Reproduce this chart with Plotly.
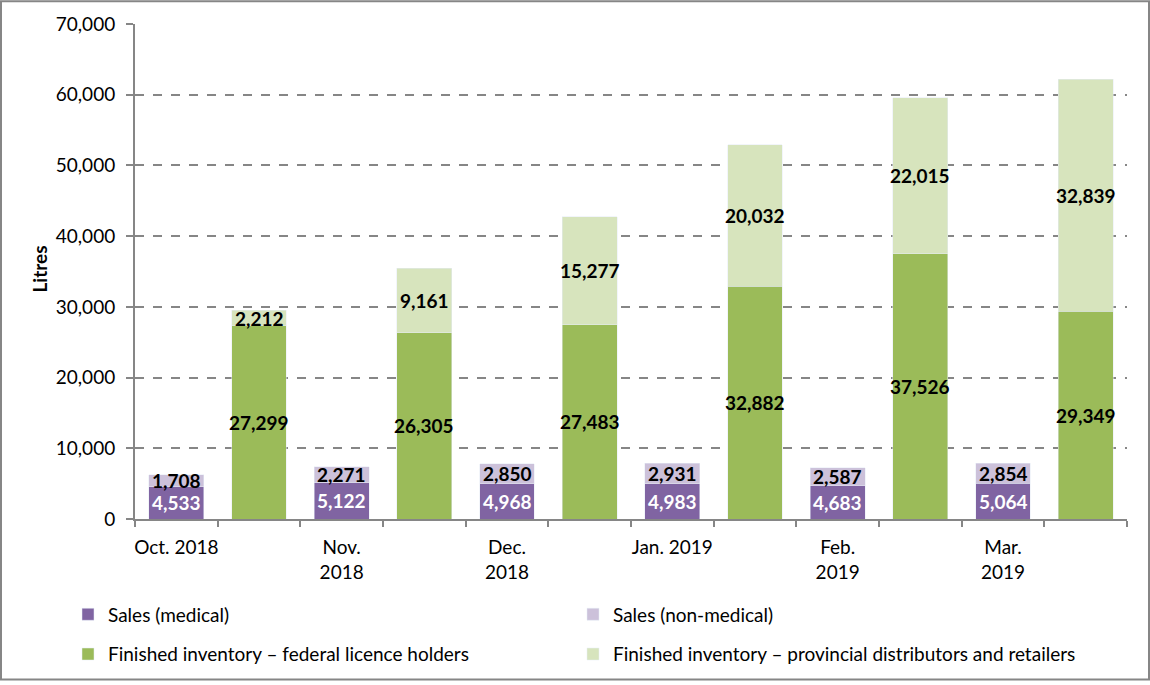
import plotly.graph_objects as go

months = ["Oct. 2018", "Nov.<br>2018", "Dec.<br>2018", "Jan. 2019", "Feb.<br>2019", "Mar.<br>2019"]
sales_medical = [4533, 5122, 4968, 4983, 4683, 5064]
sales_nonmedical = [1708, 2271, 2850, 2931, 2587, 2854]
inv_federal = [27299, 26305, 27483, 32882, 37526, 29349]
inv_provincial = [2212, 9161, 15277, 20032, 22015, 32839]

names = ["Sales (medical)", "Sales (non-medical)",
         "Finished inventory \u2013 federal licence holders",
         "Finished inventory \u2013 provincial distributors and retailers"]
colors = ["#8064A2", "#CCC1DA", "#9BBB59", "#D7E4BD"]

FONT = "Lato"
W, H = 1150, 685
L, R, T, B = 135, 23, 24, 163
PW, PH = W - L - R, H - T - B

sales_x = [2 * i for i in range(len(months))]
inv_x = [2 * i + 1 for i in range(len(months))]
bw = 0.665

fig = go.Figure()
fig.add_bar(x=sales_x, y=sales_medical, name=names[0], marker_color=colors[0],
            width=bw, legend="legend", hoverinfo="skip")
fig.add_bar(x=sales_x, y=sales_nonmedical, name=names[1], marker_color=colors[1],
            width=bw, legend="legend", hoverinfo="skip")
fig.add_bar(x=inv_x, y=inv_federal, name=names[2], marker_color=colors[2],
            width=bw, legend="legend2", hoverinfo="skip")
fig.add_bar(x=inv_x, y=inv_provincial, name=names[3], marker_color=colors[3],
            width=bw, legend="legend2", hoverinfo="skip")

lab_font = dict(family=FONT, size=19, weight="bold")
ann = []
for i in range(len(months)):
    m, n, f, p = sales_medical[i], sales_nonmedical[i], inv_federal[i], inv_provincial[i]
    ann.append(dict(x=sales_x[i], y=m / 2, text=f"{m:,}", showarrow=False,
                    font=dict(lab_font, color="white")))
    ann.append(dict(x=sales_x[i], y=m + n / 2, text=f"{n:,}", showarrow=False,
                    font=dict(lab_font, color="black")))
    ann.append(dict(x=inv_x[i], y=f / 2, text=f"{f:,}", showarrow=False,
                    font=dict(lab_font, color="black")))
    ann.append(dict(x=inv_x[i], y=f + p / 2, text=f"{p:,}", showarrow=False,
                    font=dict(lab_font, color="black")))

ann.append(dict(xref="paper", yref="paper", x=(40 - L) / PW, y=(522 - 271) / PH,
                xanchor="center", yanchor="middle",
                text="<b>Litres</b>", textangle=-90, showarrow=False,
                font=dict(family=FONT, size=19, color="black")))

leg_common = dict(orientation="h", x=(68 - L) / PW, xanchor="left", yanchor="middle",
                  entrywidth=460, font=dict(family=FONT, size=19),
                  bgcolor="rgba(0,0,0,0)", traceorder="normal")

fig.update_layout(
    width=W, height=H,
    margin=dict(l=L, r=R, t=T, b=B),
    barmode="stack",
    plot_bgcolor="white", paper_bgcolor="white",
    font=dict(family=FONT, size=19, color="black"),
    annotations=ann,
    legend=dict(leg_common, y=(522 - 618) / PH),
    legend2=dict(leg_common, y=(522 - 658) / PH),
    shapes=[dict(type="rect", xref="paper", yref="paper",
                 x0=-(L - 1) / PW, x1=1 + (R - 1) / PW,
                 y0=-(B - 1.5) / PH, y1=1 + (T - 1) / PH,
                 line=dict(color="#868686", width=2), layer="above")],
)

fig.update_xaxes(
    range=[-0.5, 11.5], tickmode="array", tickvals=sales_x, ticktext=months,
    ticks="", showgrid=False, zeroline=False, automargin=False,
    showline=True, linecolor="#868686", linewidth=2,
    tickfont=dict(family=FONT, size=19), ticklabelstandoff=10,
    minor=dict(tickmode="linear", tick0=-0.5, dtick=1, ticks="outside",
               ticklen=6, tickcolor="#868686", tickwidth=2, showgrid=False),
)
fig.update_yaxes(
    range=[0, 70000], dtick=10000, tickformat=",", automargin=False,
    ticks="outside", ticklen=7, tickcolor="#868686", tickwidth=2,
    showline=True, linecolor="#868686", linewidth=2, zeroline=False,
    showgrid=True, gridcolor="#868686", griddash="dash", gridwidth=1.5,
    tickfont=dict(family=FONT, size=19), ticklabelstandoff=7,
)

fig.write_html("out.html", config={"displayModeBar": False},
               post_script="document.body.style.margin='0';document.body.style.padding='0';")
